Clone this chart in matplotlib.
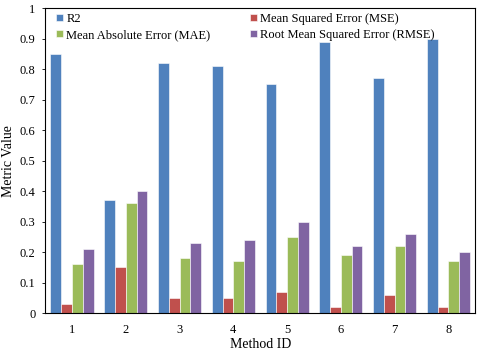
import numpy as np
import matplotlib.pyplot as plt

plt.rcParams['font.family'] = ['Liberation Serif', 'DejaVu Serif']

methods = [1, 2, 3, 4, 5, 6, 7, 8]
r2 = [0.85, 0.37, 0.82, 0.81, 0.75, 0.89, 0.77, 0.90]
mse = [0.03, 0.15, 0.05, 0.05, 0.07, 0.02, 0.06, 0.02]
mae = [0.16, 0.36, 0.18, 0.17, 0.25, 0.19, 0.22, 0.17]
rmse = [0.21, 0.40, 0.23, 0.24, 0.30, 0.22, 0.26, 0.20]

series = [
    ("R2", r2, "#4F81BD"),
    ("Mean Squared Error (MSE)", mse, "#C0504D"),
    ("Mean Absolute Error (MAE)", mae, "#9BBB59"),
    ("Root Mean Squared Error (RMSE)", rmse, "#8064A2"),
]

fig = plt.figure(figsize=(4.8, 3.53), dpi=100)
ax = fig.add_axes([0.094, 0.113, 0.896, 0.864])

x = np.array(methods)
w = 0.2
bars = {}
for i, (name, vals, color) in enumerate(series):
    bars[name] = ax.bar(x + (i - 1.5) * w, vals, w, color=color,
                        edgecolor="white", linewidth=0.4, label=name)

ax.set_xlim(0.5, 8.5)
ax.set_ylim(0, 1)
ax.set_yticks(np.arange(0, 1.01, 0.1))
ax.set_yticklabels(["0"] + ["%.1f" % v for v in np.arange(0.1, 0.95, 0.1)] + ["1"])
ax.set_xticks(x)
ax.tick_params(axis="x", length=0, labelsize=9, pad=8)
ax.tick_params(axis="y", length=2, width=0.6, labelsize=9, pad=5)
ax.set_xlabel("Method ID", fontsize=10, labelpad=1)
ax.set_ylabel("Metric Value", fontsize=10, labelpad=3)
for s in ax.spines.values():
    s.set_color("black")
    s.set_linewidth(0.8)

order = ["R2", "Mean Absolute Error (MAE)", "Mean Squared Error (MSE)",
         "Root Mean Squared Error (RMSE)"]
ax.legend([bars[n] for n in order], order, ncol=2, frameon=False,
          loc="upper left", bbox_to_anchor=(0.0, 1.02), fontsize=9,
          handlelength=0.5, handleheight=0.5, handletextpad=0.3,
          columnspacing=3.2, labelspacing=0.3)

plt.savefig("out.png")
